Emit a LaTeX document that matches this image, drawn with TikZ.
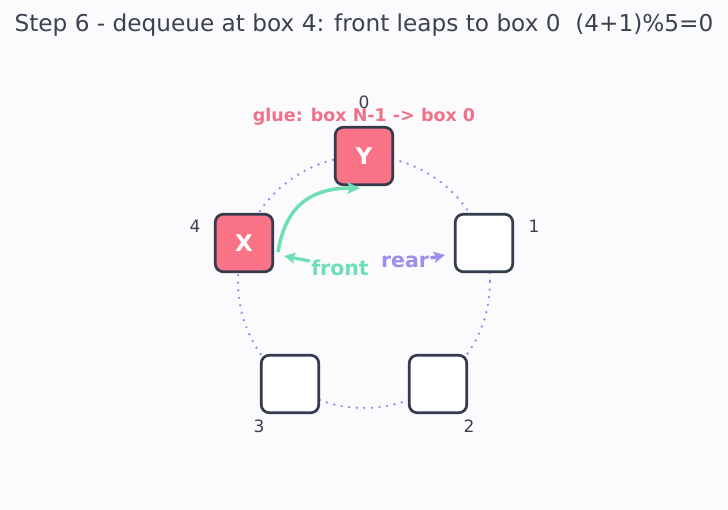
\documentclass[tikz,border=0pt]{standalone}
\usepackage{fontspec}
\setmainfont{DejaVu Sans}
\usetikzlibrary{arrows.meta}
\definecolor{bg}{HTML}{FBFBFD}
\definecolor{ink}{HTML}{3A4252}
\definecolor{edge}{HTML}{343B4D}
\definecolor{hot}{HTML}{F97286}
\definecolor{hottext}{HTML}{F07088}
\definecolor{grn}{HTML}{6EDFB4}
\definecolor{prp}{HTML}{A08CEB}
\begin{document}
\begin{tikzpicture}[x=1pt,y=-1pt,
  box/.style={draw=edge, line width=2.7pt, rounded corners=8pt, minimum size=57.5pt, inner sep=0pt, fill=white},
  full/.style={box, fill=hot, text=white, font=\fontsize{23}{23}\selectfont\bfseries},
  idx/.style={text=ink, font=\fontsize{17}{17}\selectfont},
  ring/.style={draw=prp, line width=2.7pt, line cap=round, dash pattern=on 0pt off 7.6pt},
  lbl/.style={font=\fontsize{20.5}{20.5}\selectfont\bfseries},
]
\fill[bg] (0,0) rectangle (728,510);
\useasboundingbox (0,0) rectangle (728,510);
\node[text=ink, font=\fontsize{23.2}{23.2}\selectfont] (title) at (364,25) {Step 6 - dequeue at box 4: front leaps to box 0\ \ (4+1)\%5=0};
\coordinate (ctr) at (364,282);
\draw[ring] (ctr) circle[radius=126];
\node[full] (b0) at (364,156) {Y};
\node[box]  (b1) at (484,243) {};
\node[box]  (b2) at (438,384) {};
\node[box]  (b3) at (290,384) {};
\node[full] (b4) at (244,243) {X};
\node[idx] (i0) at (364,102) {0};
\node[idx] (i1) at (534,226) {1};
\node[idx] (i2) at (469,426) {2};
\node[idx] (i3) at (259,426) {3};
\node[idx] (i4) at (195,226) {4};
\node[text=hottext, font=\fontsize{17.5}{17.5}\selectfont\bfseries] (glue) at (364,117) {glue: box N-1 -> box 0};
\draw[grn, line width=3.5pt, -{Stealth[length=13pt,width=12pt,inset=3pt]}]
  ([shift={(4,9)}]b4.east) .. controls (286,200) and (318,188) .. ([shift={(-4,2)}]b0.south);
\node[lbl, text=grn] (front) at (340,268) {front};
\node[lbl, text=prp] (rear) at (405,262) {rear};
\coordinate (fpt) at (284,256);
\coordinate (rpt) at (445,255);
\draw[grn, line width=3.2pt, -{Stealth[length=11pt,width=11pt,inset=2pt]}] ([shift={(2,-7)}]front.west) -- (fpt);
\draw[prp, line width=3.2pt, -{Stealth[length=11pt,width=11pt,inset=2pt]}] ([shift={(-2,-4)}]rear.east) -- (rpt);
\end{tikzpicture}
\end{document}
